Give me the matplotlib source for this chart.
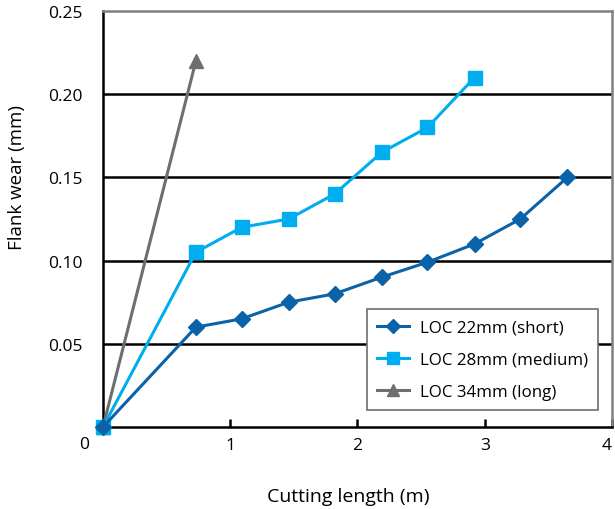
import matplotlib
matplotlib.use("Agg")
import matplotlib.pyplot as plt
from matplotlib.lines import Line2D
from matplotlib.transforms import blended_transform_factory

plt.rcParams['font.family'] = ['Open Sans', 'DejaVu Sans']

# Cutting length (m) and flank wear (mm) per length of cut
x_short = [0.0, 0.73, 1.09, 1.46, 1.82, 2.19, 2.55, 2.92, 3.28, 3.65]
wear_short = [0.0, 0.06, 0.065, 0.075, 0.08, 0.09, 0.099, 0.11, 0.125, 0.15]

x_medium = [0.0, 0.73, 1.09, 1.46, 1.82, 2.19, 2.55, 2.92]
wear_medium = [0.0, 0.105, 0.12, 0.125, 0.14, 0.165, 0.18, 0.21]

x_long = [0.0, 0.73]
wear_long = [0.0, 0.22]

labels = ["LOC 22mm (short)", "LOC 28mm (medium)", "LOC 34mm (long)"]
y_ticks = [0.05, 0.10, 0.15, 0.20, 0.25]
x_ticks = [1, 2, 3, 4]

c_short = "#0A62A8"
c_medium = "#00AEEF"
c_long = "#6D6E71"

fig = plt.figure(figsize=(6.15, 5.10), dpi=100)
ax = fig.add_axes([0.1675, 0.1608, 0.8275, 0.8157])

ax.set_xlim(0, 4)
ax.set_ylim(0, 0.25)

for y in y_ticks[:-1]:
    ax.axhline(y, color="black", lw=1.8, zorder=1)

ax.plot(x_long, wear_long, color=c_long, lw=2.2, marker="^", ms=10,
        zorder=3, clip_on=False)
ax.plot(x_medium, wear_medium, color=c_medium, lw=2.2, marker="s", ms=10,
        zorder=4, clip_on=False)
ax.plot(x_short, wear_short, color=c_short, lw=2.2, marker="D", ms=8,
        zorder=5, clip_on=False)

for side in ("left", "bottom"):
    ax.spines[side].set_color("black")
    ax.spines[side].set_linewidth(1.8)
for side in ("top", "right"):
    ax.spines[side].set_color("#808080")
    ax.spines[side].set_linewidth(1.8)

ax.set_yticks(y_ticks)
ax.set_yticklabels([f"{v:.2f}" for v in y_ticks])
ax.set_xticks(x_ticks)
ax.set_xticklabels([str(v) for v in x_ticks])
ax.tick_params(axis="y", length=0, pad=15, labelsize=12.5)
ax.tick_params(axis="x", direction="in", length=6, width=1.8, pad=7,
               labelsize=12.5)
ax.get_xticklabels()[-1].set_horizontalalignment("right")

# shared origin label at the corner
trans = blended_transform_factory(ax.transData, ax.transAxes)
ax.text(-0.15, -0.04, "0", transform=trans, ha="center", va="center",
        fontsize=12.5)

ax.set_xlabel("Cutting length (m)", fontsize=14, va="center")
ax.xaxis.set_label_coords(0.481, -0.166)
ax.set_ylabel("Flank wear (mm)", fontsize=13.5, va="center", ha="center")
ax.yaxis.set_label_coords(-0.169, 0.603)

handles = [
    Line2D([], [], color=c_short, lw=2.2, marker="D", ms=7),
    Line2D([], [], color=c_medium, lw=2.2, marker="s", ms=9),
    Line2D([], [], color=c_long, lw=2.2, marker="^", ms=9),
]
leg = ax.legend(handles, labels, loc="lower right",
                bbox_to_anchor=(0.9725, 0.041), borderaxespad=0,
                fontsize=12.2, fancybox=False, framealpha=1,
                handlelength=1.9, handletextpad=0.6,
                labelspacing=0.95, borderpad=0.6)
leg.get_frame().set_edgecolor("#6D6E71")
leg.get_frame().set_linewidth(1.2)

fig.savefig("out.png", dpi=100)
